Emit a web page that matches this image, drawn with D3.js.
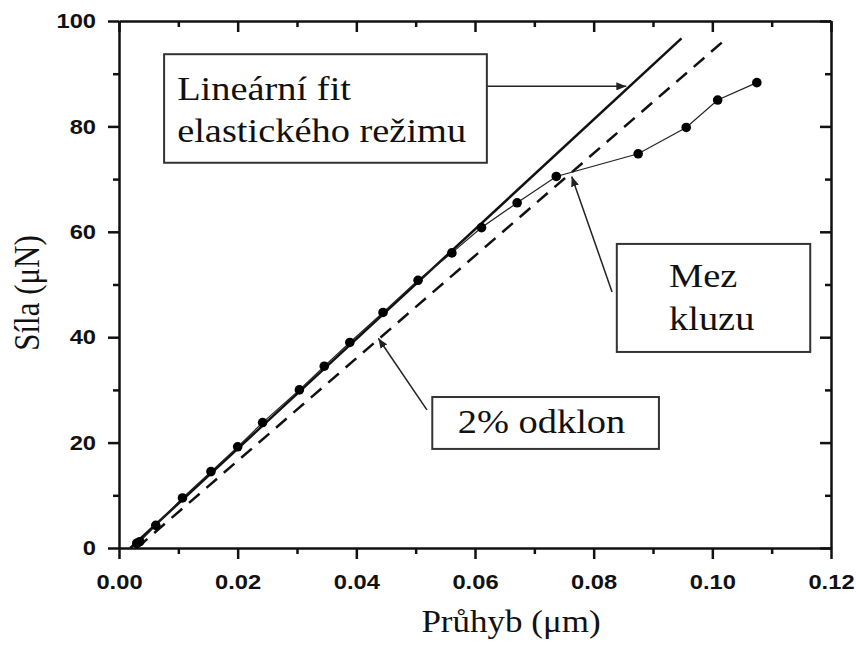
<!DOCTYPE html>
<html>
<head>
<meta charset="utf-8">
<title>Síla vs průhyb</title>
<script src="https://d3js.org/d3.v7.min.js"></script>
<style>
  body { margin: 0; background: #fff; }
  svg { display: block; }
</style>
</head>
<body>
<svg width="856" height="648"></svg>
<script>
// measured points (deflection in um, force in uN)
const deflection = [0.0030, 0.0035, 0.0062, 0.0107, 0.0155, 0.0200, 0.0242, 0.0304, 0.0346, 0.0389,
                    0.0445, 0.0504, 0.0561, 0.0611, 0.0671, 0.0737, 0.0875, 0.0956, 0.1009, 0.1075];
const force = [0.9, 1.2, 4.3, 9.5, 14.5, 19.2, 23.8, 30.0, 34.5, 39.0,
               44.7, 50.8, 56.0, 60.8, 65.5, 70.5, 74.8, 79.8, 85.0, 88.3];

// linear fit of the elastic part and the 2% offset line (end points)
const fitX = [0.0019, 0.0948];
const fitY = [0, 96.7];
const offsetX = [0.0030, 0.1018];
const offsetY = [0, 96.1];

// axis ticks
const xTicks = [0, 0.02, 0.04, 0.06, 0.08, 0.10, 0.12];
const xMinor = [0.01, 0.03, 0.05, 0.07, 0.09, 0.11];
const yTicks = [0, 20, 40, 60, 80, 100];
const yMinor = [10, 30, 50, 70, 90];

const xTitle = 'Průhyb (μm)';
const yTitle = 'Síla (μN)';

// callouts, in data units
const notes = [
  { lines: ['Lineární fit', 'elastického režimu'], box: [0.0076, 93.7, 0.0620, 73.1],
    textX: 0.0098, baselines: [85.0, 77.1], from: [0.0620, 87.6], to: [0.0855, 87.6] },
  { lines: ['Mez', 'kluzu'], box: [0.0839, 57.7, 0.1165, 37.2],
    textX: 0.0927, baselines: [49.5, 41.4], from: [0.0831, 48.6], to: [0.0763, 70.5] },
  { lines: ['2% odklon'], box: [0.0528, 28.65, 0.0910, 18.8],
    textX: 0.0571, baselines: [21.8], from: [0.0519, 26.2], to: [0.0437, 39.8] }
];

const svg = d3.select('svg');
const serif = '"Liberation Serif", "Times New Roman", serif';
const stretch = 1.13; // the original picture is a bit wider than tall

const x = d3.scaleLinear().domain([0, 0.12]).range([119, 831]);
const y = d3.scaleLinear().domain([0, 100]).range([548, 21]);

svg.append('defs').append('marker')
    .attr('id', 'arrow')
    .attr('markerUnits', 'userSpaceOnUse')
    .attr('markerWidth', 10).attr('markerHeight', 8)
    .attr('refX', 10).attr('refY', 4)
    .attr('orient', 'auto')
  .append('path')
    .attr('d', 'M0,0 L10,4 L0,8 Z')
    .attr('fill', '#222');

// axes: outward ticks left/bottom, inward on the mirrored sides
const styleAxis = g => {
  g.selectAll('.domain').attr('stroke', '#111').attr('stroke-width', 2.5);
  g.selectAll('.tick line').attr('stroke', '#111').attr('stroke-width', 2.5);
};

const bottom = svg.append('g').attr('transform', `translate(0,${y(0)})`);
bottom.call(d3.axisBottom(x).tickValues(xTicks).tickSize(11).tickSizeOuter(0).tickPadding(15)
    .tickFormat(d3.format('.2f')));
svg.append('g').attr('transform', `translate(0,${y(0)})`)
    .call(d3.axisBottom(x).tickValues(xMinor).tickSize(6).tickSizeOuter(0).tickFormat(''))
    .call(g => g.select('.domain').remove()).call(styleAxis);

const left = svg.append('g').attr('transform', `translate(${x(0)},0)`);
left.call(d3.axisLeft(y).tickValues(yTicks).tickSize(11).tickSizeOuter(0).tickPadding(11));
svg.append('g').attr('transform', `translate(${x(0)},0)`)
    .call(d3.axisLeft(y).tickValues(yMinor).tickSize(6).tickSizeOuter(0).tickFormat(''))
    .call(g => g.select('.domain').remove()).call(styleAxis);

svg.append('g').attr('transform', `translate(0,${y(100)})`)
    .call(d3.axisTop(x).tickValues(xTicks).tickSize(-11).tickSizeOuter(0).tickFormat(''))
    .call(styleAxis);
svg.append('g').attr('transform', `translate(0,${y(100)})`)
    .call(d3.axisTop(x).tickValues(xMinor).tickSize(-6).tickSizeOuter(0).tickFormat(''))
    .call(g => g.select('.domain').remove()).call(styleAxis);
svg.append('g').attr('transform', `translate(${x(0.12)},0)`)
    .call(d3.axisRight(y).tickValues(yTicks).tickSize(-11).tickSizeOuter(0).tickFormat(''))
    .call(styleAxis);
svg.append('g').attr('transform', `translate(${x(0.12)},0)`)
    .call(d3.axisRight(y).tickValues(yMinor).tickSize(-6).tickSizeOuter(0).tickFormat(''))
    .call(g => g.select('.domain').remove()).call(styleAxis);

[bottom, left].forEach(g => {
  styleAxis(g);
  g.selectAll('text')
    .attr('font-family', '"Liberation Sans", Arial, sans-serif')
    .attr('font-weight', 'bold')
    .attr('font-size', 21)
    .attr('fill', '#111');
});
// widen the tick labels like the original
bottom.selectAll('text').attr('transform', `scale(${stretch},1)`);
left.selectAll('text')
    .attr('x', -23 / stretch)
    .attr('transform', `scale(${stretch},1)`);

// fit lines
const line = d3.line().x(d => x(d[0])).y(d => y(d[1]));
svg.append('path')
    .attr('d', line(d3.zip(fitX, fitY)))
    .attr('fill', 'none').attr('stroke', '#111').attr('stroke-width', 2.5);
svg.append('path')
    .attr('d', line(d3.zip(offsetX, offsetY)))
    .attr('fill', 'none').attr('stroke', '#111').attr('stroke-width', 2.5)
    .attr('stroke-dasharray', '14,9');

// measured data
const pts = d3.zip(deflection, force);
svg.append('path')
    .attr('d', line(pts))
    .attr('fill', 'none').attr('stroke', '#222').attr('stroke-width', 1.2);
svg.selectAll('circle.pt').data(pts).enter().append('circle')
    .attr('class', 'pt')
    .attr('cx', d => x(d[0]))
    .attr('cy', d => y(d[1]))
    .attr('r', 4.8)
    .attr('fill', '#000');

// callouts
notes.forEach(n => {
  const g = svg.append('g');
  g.append('line')
      .attr('x1', x(n.from[0])).attr('y1', y(n.from[1]))
      .attr('x2', x(n.to[0])).attr('y2', y(n.to[1]))
      .attr('stroke', '#222').attr('stroke-width', 1.5)
      .attr('marker-end', 'url(#arrow)');
  g.append('rect')
      .attr('x', x(n.box[0])).attr('y', y(n.box[1]))
      .attr('width', x(n.box[2]) - x(n.box[0]))
      .attr('height', y(n.box[3]) - y(n.box[1]))
      .attr('fill', '#fff').attr('stroke', '#333').attr('stroke-width', 2);
  n.lines.forEach((t, i) => {
    g.append('text')
        .attr('transform', `translate(${x(n.textX)},${y(n.baselines[i])}) scale(${stretch},1)`)
        .attr('font-family', serif)
        .attr('font-size', 34)
        .attr('fill', '#111')
        .text(t);
  });
});

// axis titles
svg.append('text')
    .attr('transform', `translate(511,632) scale(${stretch},1)`)
    .attr('text-anchor', 'middle')
    .attr('font-family', serif).attr('font-size', 31).attr('fill', '#111')
    .text(xTitle);
svg.append('text')
    .attr('transform', `translate(39,293) scale(${stretch},1) rotate(-90)`)
    .attr('text-anchor', 'middle')
    .attr('font-family', serif).attr('font-size', 31).attr('fill', '#111')
    .text(yTitle);
</script>
</body>
</html>
